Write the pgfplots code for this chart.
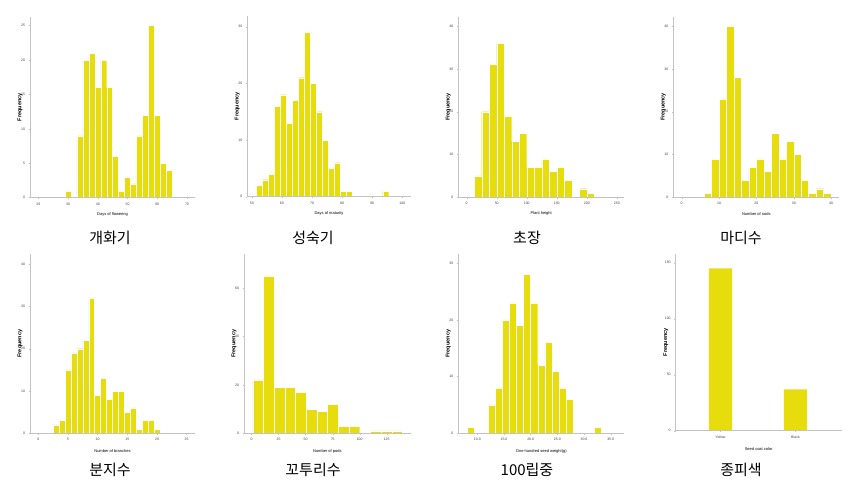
\documentclass[border=0pt]{standalone}
\usepackage{pgfplots}
\pgfplotsset{compat=1.18}
\usepackage{fontspec}
\setmainfont{Liberation Sans}
\newfontfamily\kr{Noto Sans CJK KR}
\definecolor{barY}{RGB}{232,221,12}
\definecolor{axgray}{RGB}{195,195,195}
\pgfplotsset{
 hist/.style={
  scale only axis, axis on top,
  axis x line*=bottom, axis y line*=left,
  axis line style={draw=axgray, line width=0.7pt, -},
  ymin=0, clip=false,
  tick style={draw=axgray, line width=0.4pt},
  major tick length=1.5pt,
  tick align=outside,
  tick label style={font=\fontsize{3.5}{4}\selectfont, text=black!75},
  ylabel={Frequency},
  every axis y label/.style={at={(axis description cs:0,0.5)}, xshift=-10pt, rotate=90, anchor=center, font=\bfseries\fontsize{5.5}{6}\selectfont},
  every axis x label/.style={at={(axis description cs:0.5,0)}, yshift=-16.5pt, anchor=center, font=\fontsize{4}{5}\selectfont},
  /pgf/number format/assume math mode=true,
 },
 row2/.style={every axis x label/.append style={yshift=-1.5pt}},
 bars/.style={ybar interval, fill=barY, draw=white, line width=0.4pt},
}
\begin{document}
\begin{tikzpicture}[x=1pt,y=1pt]
\path[use as bounding box] (0,0) rectangle (867,488);
% Panel 1
\begin{axis}[hist, at={(30pt,290.3pt)}, anchor=south west, width=165pt, height=181pt,
  xmin=17.2, xmax=72.7, ymax=26.3, xtick={20,30,...,70}, ytick={0,5,...,25}, xlabel={Days of flowering}]
\addplot[bars] coordinates {(29,1)(31,0)(33,9)(35,20)(37,21)(39,16)(41,20)(43,16)(45,6)(47,1)(49,3)(51,2)(53,9)(55,12)(57,25)(59,12)(61,5)(63,4)(65,0)};
\end{axis}
% Panel 2
\begin{axis}[hist, at={(247.3pt,291.3pt)}, anchor=south west, width=163.4pt, height=180.7pt,
  xmin=48.5, xmax=102.8, ymax=31.9, xtick={50,60,...,100}, ytick={0,10,20,30}, xlabel={Days of maturity}]
\addplot[bars] coordinates {(51.5,2)(53.5,3)(55.5,4)(57.5,16)(59.5,18)(61.5,13)(63.5,17)(65.5,21)(67.5,29)(69.5,20)(71.5,15)(73.5,10)(75.5,5)(77.5,6)(79.5,1)(81.5,1)(83.5,0)(85.5,0)(87.5,0)(89.5,0)(91.5,0)(93.5,1)(95.5,0)};
\end{axis}
% Panel 3
\begin{axis}[hist, at={(458.3pt,290.7pt)}, anchor=south west, width=165.7pt, height=180.6pt,
  xmin=-14, xmax=262, ymax=42.2, xtick={0,50,...,250}, ytick={0,10,...,40}, xlabel={Plant height}]
\addplot[bars] coordinates {(12.5,5)(25,20)(37.5,31)(50,36)(62.5,19)(75,13)(87.5,15)(100,7)(112.5,7)(125,9)(137.5,6)(150,7)(162.5,4)(175,0)(187.5,2)(200,1)(212.5,0)};
\end{axis}
% Panel 4
\begin{axis}[hist, at={(673.3pt,290.7pt)}, anchor=south west, width=166pt, height=180.6pt,
  xmin=-2.25, xmax=42.2, ymax=42.2, xtick={0,10,...,40}, ytick={0,10,...,40}, xlabel={Number of nods}]
\addplot[bars] coordinates {(6,1)(8,9)(10,23)(12,40)(14,28)(16,4)(18,7)(20,9)(22,6)(24,15)(26,9)(28,13)(30,10)(32,4)(34,1)(36,2)(38,1)(40,0)};
\end{axis}
% Panel 5
\begin{axis}[hist, row2, at={(30pt,54.7pt)}, anchor=south west, width=165pt, height=179.3pt,
  xmin=-1.4, xmax=26.4, ymax=42.4, xtick={0,5,...,25}, ytick={0,10,...,40}, xlabel={Number of branches}]
\addplot[bars] coordinates {(2.5,2)(3.5,3)(4.5,15)(5.5,19)(6.5,20)(7.5,22)(8.5,32)(9.5,9)(10.5,13)(11.5,8)(12.5,10)(13.5,10)(14.5,5)(15.5,6)(16.5,1)(17.5,3)(18.5,3)(19.5,1)(20.5,0)};
\end{axis}
% Panel 6
\begin{axis}[hist, row2, at={(244pt,54.7pt)}, anchor=south west, width=166.7pt, height=179.3pt,
  xmin=-7.1, xmax=147.2, ymax=74, xtick={0,25,...,125}, ytick={0,20,40,60}, xlabel={Number of pods}]
\addplot[bars] coordinates {(1,22)(10.9,65)(20.8,19)(30.7,19)(40.6,17)(50.5,10)(60.4,9)(70.3,12)(80.2,3)(90.1,3)(100,0)(109.9,1)(119.8,1)(129.7,1)(139.6,0)};
\end{axis}
% Panel 7
\begin{axis}[hist, row2, at={(458.3pt,54.7pt)}, anchor=south west, width=166pt, height=179.3pt,
  xmin=6.44, xmax=37.55, ymax=31.6, xtick={10,15,...,35}, ytick={0,10,20,30},
  xticklabel style={/pgf/number format/.cd, fixed, fixed zerofill, precision=1},
  xlabel={One hundred seed weight(g)}]
\addplot[bars] coordinates {(8.12,1)(9.44,0)(10.76,0)(12.08,5)(13.40,8)(14.72,20)(16.04,23)(17.36,19)(18.68,28)(20.00,23)(21.32,12)(22.64,16)(23.96,11)(25.28,8)(26.60,6)(27.92,0)(29.24,0)(30.56,0)(31.88,1)(33.20,0)};
\end{axis}
% Panel 8
\begin{axis}[hist, row2, at={(675.7pt,57.3pt)}, anchor=south west, width=166pt, height=176.7pt,
  xmin=-0.597, xmax=1.616, ymax=157.8, xtick={0,1}, xticklabels={Yellow,Black}, ytick={0,50,100,150}, xlabel={Seed coat color}]
\addplot[ybar, bar width=0.307, fill=barY, draw=none] coordinates {(0,145)(1,37)};
\end{axis}
% Korean captions
\begin{scope}[every node/.style={font=\kr\fontsize{15}{15}\selectfont, anchor=center}]
\node at (110,250) {개화기};
\node at (313,250) {성숙기};
\node at (527,250) {초장};
\node at (741,250) {마디수};
\node at (110,18) {분지수};
\node at (313,18) {꼬투리수};
\node at (527,18) {100립중};
\node at (741,18) {종피색};
\end{scope}
\end{tikzpicture}
\end{document}
